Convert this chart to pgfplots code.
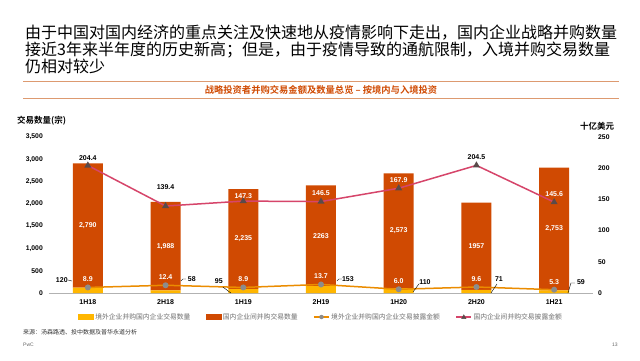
\documentclass[border=0pt]{standalone}
\usepackage{fontspec}
\setmainfont{Liberation Sans}
\newfontfamily\cjk[BoldFont={Noto Sans CJK SC Bold}]{Noto Sans CJK SC}
\usepackage{pgfplots}
\pgfplotsset{compat=1.18}
\definecolor{yellowc}{HTML}{FFB600}
\definecolor{redc}{HTML}{D04A02}
\definecolor{orangec}{HTML}{EB8C00}
\definecolor{greyc}{HTML}{8C8C8C}
\definecolor{pinkc}{HTML}{D6456A}
\definecolor{trianglec}{HTML}{5A4A4A}
\definecolor{rulec}{HTML}{DD9A70}
\definecolor{subc}{HTML}{D04A02}
\definecolor{legc}{HTML}{6E6E6E}
\pgfplotsset{
  base/.style={scale only axis, width=544pt, height=156pt, at={(49pt,67pt)}, anchor=south west,
    xmin=-0.5, xmax=6.5, clip=false, /pgf/number format/assume math mode=true},
  lab/.style={nodes near coords, point meta=explicit symbolic, nodes near coords align={center},
    every node near coord/.append style={inner sep=0pt, font=\bfseries\fontsize{7}{8}\selectfont}},
}
\begin{document}
\begin{tikzpicture}[x=1pt,y=1pt]
\useasboundingbox (0,0) rectangle (640,360);
\fill[white] (0,0) rectangle (640,360);
\node[anchor=west, inner sep=0pt, font=\cjk\fontsize{16}{18}\selectfont] at (25,327) {由于中国对国内经济的重点关注及快速地从疫情影响下走出，国内企业战略并购数量};
\node[anchor=west, inner sep=0pt, font=\cjk\fontsize{16}{18}\selectfont] at (25,310) {接近3年来半年度的历史新高；但是，由于疫情导致的通航限制，入境并购交易数量};
\node[anchor=west, inner sep=0pt, font=\cjk\fontsize{16}{18}\selectfont] at (25,294) {仍相对较少};
\draw[rulec, line width=0.6pt] (23,279) -- (619,279);
\draw[rulec, line width=0.6pt] (23,262) -- (619,262);
\node[inner sep=0pt, text=subc, font=\cjk\bfseries\fontsize{9.3}{10}\selectfont] at (321,270.5) {战略投资者并购交易金额及数量总览 – 按境内与入境投资};
\node[anchor=west, inner sep=0pt, font=\cjk\bfseries\fontsize{8.5}{10}\selectfont] at (17,239) {交易数量(宗)};
\node[anchor=west, inner sep=0pt, font=\cjk\bfseries\fontsize{8.5}{10}\selectfont] at (580,234) {十亿美元};
\node[anchor=west, inner sep=0pt, text=black!80, font=\cjk\fontsize{6}{7}\selectfont] at (23,28) {来源：汤森路透、投中数据及普华永道分析};
\node[anchor=west, inner sep=0pt, text=black!60, font=\fontsize{5}{6}\selectfont] at (23,15) {PwC};
\node[anchor=west, inner sep=0pt, text=black!60, font=\fontsize{5}{6}\selectfont] at (612,15) {13};

% bars, left axis
\begin{axis}[base, ybar stacked, bar width=30pt, ymin=0, ymax=3500,
  ytick={0,500,...,3500}, /pgf/number format/1000 sep={,},
  xtick={0,...,6}, xticklabels={1H18,2H18,1H19,2H19,1H20,2H20,1H21},
  axis x line*=bottom, axis y line*=left,
  y axis line style={draw=none}, x axis line style={draw=black!30, line width=0.8pt},
  tick style={draw=none},
  yticklabel style={inner sep=0pt, xshift=-6pt, font=\bfseries\fontsize{6.8}{8}\selectfont},
  xticklabel style={inner sep=0pt, yshift=-6pt, font=\bfseries\fontsize{7}{8}\selectfont},
]
\addplot[fill=yellowc, draw=none] coordinates {(0,120) (1,58) (2,95) (3,153) (4,110) (5,71) (6,59)};
\addplot[fill=redc, draw=none] coordinates {(0,2790) (1,1988) (2,2235) (3,2263) (4,2573) (5,1957) (6,2753)};
\end{axis}

% lines, right axis
\begin{axis}[base, ymin=0, ymax=250, ytick={0,50,...,250},
  axis y line*=right, axis x line=none, y axis line style={draw=none}, tick style={draw=none},
  yticklabel style={inner sep=0pt, xshift=5pt, font=\bfseries\fontsize{6.8}{8}\selectfont},
]
\addplot[orangec, line width=1.5pt, mark=*, mark size=2.2pt, mark options={fill=greyc, draw=greyc},
  lab, every node near coord/.append style={text=white, yshift=8pt}]
  coordinates {(0,8.9)[8.9] (1,12.4)[12.4] (2,8.9)[8.9] (3,13.7)[13.7] (4,6.0)[6.0] (5,9.6)[9.6] (6,5.3)[5.3]};
\addplot[pinkc, line width=1.5pt, mark=triangle*, mark size=2.6pt, mark options={fill=trianglec, draw=trianglec}]
  coordinates {(0,204.4) (1,139.4) (2,147.3) (3,146.5) (4,167.9) (5,204.5) (6,145.6)};
\addplot[draw=none, lab, every node near coord/.append style={text=black}]
  coordinates {(0,216.3)[204.4] (1,169.1)[139.4] (5,217.2)[204.5]};
\addplot[draw=none, lab, every node near coord/.append style={text=white}]
  coordinates {(2,155.4)[147.3] (3,159.5)[146.5] (4,181.1)[167.9] (6,158.7)[145.6]};
\end{axis}

% labels, left units, legend
\begin{axis}[base, ymin=0, ymax=3500, hide axis,
  legend columns=4,
  legend style={at={(0.499,-0.154)}, anchor=center, draw=none, fill=none, inner sep=0pt,
    font=\cjk\fontsize{6.8}{8}\selectfont, text=legc, nodes={inner sep=0.5pt},
    /tikz/every odd column/.append style={column sep=1pt},
    /tikz/every even column/.append style={column sep=15pt}},
]
\addlegendimage{legend image code/.code={\fill[yellowc] (0pt,-2.5pt) rectangle (15pt,2.5pt);}}
\addlegendentry{境外企业并购国内企业交易数量}
\addlegendimage{legend image code/.code={\fill[redc] (0pt,-2.5pt) rectangle (15pt,2.5pt);}}
\addlegendentry{国内企业间并购交易数量}
\addlegendimage{legend image code/.code={\draw[orangec, line width=1.5pt] (0pt,0pt)--(15pt,0pt); \fill[greyc] (7.5pt,0pt) circle (2pt);}}
\addlegendentry{境外企业并购国内企业交易披露金额}
\addlegendimage{legend image code/.code={\draw[pinkc, line width=1.5pt] (0pt,0pt)--(15pt,0pt); \fill[trianglec] (5.3pt,-1.6pt)--(9.7pt,-1.6pt)--(7.5pt,2.3pt)--cycle;}}
\addlegendentry{国内企业间并购交易披露金额}
% domestic counts (white, mid-bar)
\addplot[draw=none, lab, every node near coord/.append style={text=white}]
  coordinates {(0,1515)[{2,790}] (1,1052)[{1,988}] (2,1212.5)[{2,235}] (3,1284.5)[2263] (4,1396.5)[{2,573}] (5,1049.5)[1957] (6,1435.5)[{2,753}]};
% inbound counts (black, outside)
\addplot[draw=none, lab, every node near coord/.append style={text=black}]
  coordinates {(-0.335,291.7)[120] (1.338,314)[58] (1.686,269)[95] (3.346,314)[153] (4.337,247)[110] (5.290,314)[71] (6.345,247)[59]};
% leader lines
\addplot[black, line width=0.4pt] coordinates {(-0.257,291.7) (-0.206,269)};
\addplot[black, line width=0.4pt] coordinates {(1.197,269) (1.223,314) (1.261,314)};
\addplot[black, line width=0.4pt] coordinates {(1.737,134.6) (1.840,0)};
\addplot[black, line width=0.4pt] coordinates {(3.205,269) (3.230,314) (3.269,314)};
\addplot[black, line width=0.4pt] coordinates {(4.183,22) (4.260,202)};
\addplot[black, line width=0.4pt] coordinates {(5.187,0) (5.264,202)};
\addplot[black, line width=0.4pt] coordinates {(6.178,0) (6.216,224) (6.268,224)};
\end{axis}
\end{tikzpicture}
\end{document}
